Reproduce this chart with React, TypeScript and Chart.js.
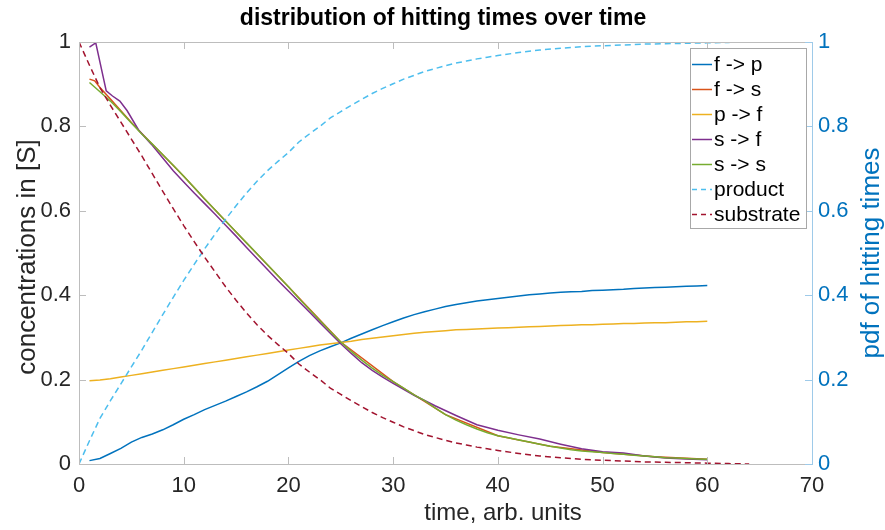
import React, { useEffect, useRef } from "react";
import { Chart, registerables } from "chart.js";

Chart.register(...registerables);

// ---------- data ----------
const chartTitle = "distribution of hitting times over time";
const xLabel = "time, arb. units";
const yLeftLabel = "concentrations in [S]";
const yRightLabel = "pdf of hitting times";

const xTicks = [0, 10, 20, 30, 40, 50, 60, 70];
const yTicks = [0, 0.2, 0.4, 0.6, 0.8, 1];
const yTickLabels = ["0", "0.2", "0.4", "0.6", "0.8", "1"];

const hitT = [
  1, 2, 3, 4, 5, 6, 7, 8, 9, 10, 11, 12, 13, 14, 15, 16, 17, 18, 19, 20,
  21, 22, 23, 24, 25, 26, 27, 28, 29, 30, 31, 32, 33, 34, 35, 36, 37, 38, 39, 40,
  41, 42, 43, 44, 45, 46, 47, 48, 49, 50, 51, 52, 53, 54, 55, 56, 57, 58, 59, 60,
];

const fToP = [
  0.008, 0.013, 0.025, 0.037, 0.052, 0.063, 0.071, 0.081, 0.093, 0.106,
  0.117, 0.129, 0.139, 0.149, 0.16, 0.171, 0.183, 0.196, 0.212, 0.228,
  0.243, 0.257, 0.268, 0.278, 0.287, 0.298, 0.308, 0.318, 0.328, 0.337,
  0.346, 0.354, 0.361, 0.367, 0.373, 0.378, 0.382, 0.386, 0.389, 0.392,
  0.395, 0.398, 0.401, 0.403, 0.405, 0.407, 0.408, 0.409, 0.411, 0.412,
  0.413, 0.414, 0.416, 0.417, 0.418, 0.419, 0.42, 0.421, 0.422, 0.423,
];

const pToF = [
  0.197, 0.199, 0.202, 0.206, 0.21, 0.214, 0.218, 0.222, 0.226, 0.23,
  0.234, 0.238, 0.242, 0.246, 0.25, 0.254, 0.258, 0.262, 0.266, 0.27,
  0.274, 0.278, 0.282, 0.285, 0.288, 0.291, 0.295, 0.298, 0.301, 0.304,
  0.307, 0.31, 0.312, 0.314, 0.316, 0.318, 0.319, 0.32, 0.321, 0.322,
  0.323, 0.324, 0.325, 0.326, 0.327, 0.328, 0.329, 0.33, 0.33, 0.331,
  0.332, 0.333, 0.333, 0.334, 0.335, 0.335, 0.336, 0.337, 0.337, 0.338,
];

const sToS = [
  0.904, 0.882, 0.86, 0.835, 0.808, 0.782, 0.758, 0.733, 0.708, 0.682,
  0.655, 0.628, 0.602, 0.576, 0.55, 0.524, 0.498, 0.472, 0.446, 0.42,
  0.392, 0.366, 0.34, 0.314, 0.289, 0.267, 0.246, 0.227, 0.21, 0.195,
  0.18, 0.164, 0.15, 0.133, 0.117, 0.104, 0.093, 0.083, 0.074, 0.067,
  0.062, 0.057, 0.052, 0.047, 0.042, 0.038, 0.034, 0.031, 0.029, 0.027,
  0.025, 0.023, 0.021, 0.019, 0.017, 0.015, 0.014, 0.013, 0.012, 0.011,
];

const fToST = [1, 1.5, 2, 3, 4, 5, 6, 8, 10, 12, 15, 20, 25, 30, 35, 40, 45, 50, 55, 60];
const fToS = [
  0.912, 0.908, 0.892, 0.865, 0.837, 0.809, 0.783, 0.733, 0.682, 0.628,
  0.55, 0.42, 0.289, 0.195, 0.117, 0.067, 0.042, 0.027, 0.017, 0.011,
];

const sToFT = [
  1, 1.6, 2.6, 3.2, 3.9, 4.6, 5.7, 6.9, 8, 9, 10, 11, 12, 13, 14, 15, 16, 17, 18, 19,
  20, 21, 22, 23, 24, 25, 26, 27, 28, 29, 30, 32, 34, 36, 38, 40, 42, 44, 46, 48,
  50, 52, 54, 56, 58, 60,
];
const sToF = [
  0.988, 0.998, 0.884, 0.872, 0.86, 0.837, 0.791, 0.758, 0.725, 0.695,
  0.668, 0.642, 0.617, 0.592, 0.566, 0.54, 0.513, 0.487, 0.461, 0.435,
  0.41, 0.385, 0.36, 0.335, 0.31, 0.285, 0.262, 0.24, 0.222, 0.206,
  0.191, 0.163, 0.138, 0.115, 0.093, 0.08, 0.069, 0.059, 0.047, 0.036,
  0.029, 0.026, 0.019, 0.014, 0.012, 0.01,
];

const concT = [
  0, 1, 2, 3, 4, 5, 6, 7, 8, 9, 10, 11, 12, 13, 14, 15, 16, 17, 18, 19, 20,
  21, 22, 23, 24, 25, 26, 27, 28, 29, 30, 31, 32, 33, 34, 35, 36, 37, 38, 39, 40,
  42, 44, 46, 48, 50, 52, 54, 56, 58, 60, 62, 64,
];
const product = [
  0, 0.055, 0.108, 0.15, 0.19, 0.23, 0.27, 0.312, 0.354, 0.395, 0.435,
  0.473, 0.51, 0.545, 0.58, 0.612, 0.642, 0.67, 0.695, 0.717, 0.738,
  0.763, 0.782, 0.8, 0.82, 0.835, 0.85, 0.864, 0.878, 0.89, 0.901,
  0.912, 0.921, 0.93, 0.937, 0.944, 0.95, 0.955, 0.96, 0.964, 0.968,
  0.975, 0.981, 0.985, 0.989, 0.991, 0.993, 0.995, 0.996, 0.997, 0.998, 0.999, 1.0,
];
const substrate = [
  1.0, 0.945, 0.892, 0.85, 0.81, 0.77, 0.73, 0.688, 0.646, 0.605, 0.565,
  0.527, 0.49, 0.455, 0.42, 0.388, 0.358, 0.33, 0.305, 0.283, 0.262,
  0.237, 0.218, 0.2, 0.18, 0.165, 0.15, 0.136, 0.122, 0.11, 0.099,
  0.088, 0.079, 0.07, 0.063, 0.056, 0.05, 0.045, 0.04, 0.036, 0.032,
  0.025, 0.019, 0.015, 0.011, 0.009, 0.007, 0.005, 0.004, 0.003, 0.002, 0.001, 0.0,
];

const seriesNames = ["f -> p", "f -> s", "p -> f", "s -> f", "s -> s", "product", "substrate"];
const seriesColors = ["#0072BD", "#D95319", "#EDB120", "#7E2F8E", "#77AC30", "#4DBEEE", "#A2142F"];

const FONT = "'Liberation Sans', Arial, Helvetica, sans-serif";

function pts(xs: number[], ys: number[]) {
  return xs.map((x, i) => ({ x, y: ys[i] }));
}

function yLabelFor(v: number) {
  const i = yTicks.findIndex((t) => Math.abs(t - v) < 1e-9);
  return i >= 0 ? yTickLabels[i] : "";
}

const framePlugin = {
  id: "frame",
  afterDatasetsDraw(chart: any) {
    const { ctx, chartArea: a, scales } = chart;
    ctx.save();
    // axes box
    ctx.lineWidth = 1;
    ctx.strokeStyle = "#bdbdbd";
    ctx.beginPath();
    ctx.moveTo(a.left + 0.5, a.top + 0.5);
    ctx.lineTo(a.left + 0.5, a.bottom + 0.5);
    ctx.lineTo(a.right + 0.5, a.bottom + 0.5);
    ctx.moveTo(a.left + 0.5, a.top + 0.5);
    ctx.lineTo(a.right + 0.5, a.top + 0.5);
    ctx.stroke();
    // x ticks (inward, bottom and top)
    ctx.beginPath();
    xTicks.forEach((v) => {
      const px = Math.round(scales.x.getPixelForValue(v)) + 0.5;
      ctx.moveTo(px, a.bottom);
      ctx.lineTo(px, a.bottom - 7);
      ctx.moveTo(px, a.top);
      ctx.lineTo(px, a.top + 7);
    });
    yTicks.forEach((v) => {
      const py = Math.round(scales.y.getPixelForValue(v)) + 0.5;
      ctx.moveTo(a.left, py);
      ctx.lineTo(a.left + 7, py);
    });
    ctx.stroke();
    // right axis
    ctx.strokeStyle = "#9ecae9";
    ctx.beginPath();
    ctx.moveTo(a.right + 0.5, a.top);
    ctx.lineTo(a.right + 0.5, a.bottom + 1);
    yTicks.forEach((v) => {
      const py = Math.round(scales.y2.getPixelForValue(v)) + 0.5;
      ctx.moveTo(a.right, py);
      ctx.lineTo(a.right - 7, py);
    });
    ctx.stroke();

    // legend
    const lx = 690, ly = 48, lw = 116, lh = 180;
    ctx.fillStyle = "#ffffff";
    ctx.fillRect(lx, ly, lw, lh);
    ctx.strokeStyle = "#a8a8a8";
    ctx.strokeRect(lx + 0.5, ly + 0.5, lw, lh);
    ctx.font = `21px ${FONT}`;
    ctx.textBaseline = "middle";
    ctx.textAlign = "left";
    seriesNames.forEach((name, i) => {
      const ry = 64 + i * 25;
      ctx.strokeStyle = seriesColors[i];
      ctx.lineWidth = 1.5;
      ctx.setLineDash(i >= 5 ? [5, 4] : []);
      ctx.beginPath();
      ctx.moveTo(692, ry + 0.5);
      ctx.lineTo(712, ry + 0.5);
      ctx.stroke();
      ctx.setLineDash([]);
      ctx.fillStyle = "#000000";
      ctx.fillText(name, 714, ry + 1);
    });

    // title
    ctx.fillStyle = "#000000";
    ctx.font = `bold 23px ${FONT}`;
    ctx.textAlign = "center";
    ctx.textBaseline = "middle";
    ctx.fillText(chartTitle, 443, 19);

    // x label
    ctx.fillStyle = "#262626";
    ctx.font = `24px ${FONT}`;
    ctx.fillText(xLabel, 503, 513);

    // left y label
    ctx.save();
    ctx.translate(28, 257);
    ctx.rotate(-Math.PI / 2);
    ctx.font = `26px ${FONT}`;
    ctx.fillStyle = "#262626";
    ctx.fillText(yLeftLabel, 0, 0);
    ctx.restore();

    // right y label
    ctx.save();
    ctx.translate(872, 253);
    ctx.rotate(-Math.PI / 2);
    ctx.font = `26px ${FONT}`;
    ctx.fillStyle = "#0072BD";
    ctx.fillText(yRightLabel, 0, 0);
    ctx.restore();

    ctx.restore();
  },
};

export default function App() {
  const ref = useRef<HTMLCanvasElement | null>(null);

  useEffect(() => {
    if (!ref.current) return;
    const mk = (label: string, data: any[], i: number, axis: string, dashed = false) => ({
      label,
      data,
      borderColor: seriesColors[i],
      backgroundColor: seriesColors[i],
      borderWidth: 1.5,
      borderDash: dashed ? [6, 4] : [],
      pointRadius: 0,
      fill: false,
      tension: 0,
      yAxisID: axis,
      order: 10 - i,
    });
    const chart = new Chart(ref.current, {
      type: "line",
      data: {
        datasets: [
          mk(seriesNames[0], pts(hitT, fToP), 0, "y2"),
          mk(seriesNames[1], pts(fToST, fToS), 1, "y2"),
          mk(seriesNames[2], pts(hitT, pToF), 2, "y2"),
          mk(seriesNames[3], pts(sToFT, sToF), 3, "y2"),
          mk(seriesNames[4], pts(hitT, sToS), 4, "y2"),
          mk(seriesNames[5], pts(concT, product), 5, "y", true),
          mk(seriesNames[6], pts(concT, substrate), 6, "y", true),
        ] as any,
      },
      options: {
        animation: false,
        responsive: false,
        layout: { padding: { top: 42, left: 0, right: 0, bottom: 0 } },
        plugins: { legend: { display: false }, title: { display: false }, tooltip: { enabled: false } },
        scales: {
          x: {
            type: "linear",
            min: 0,
            max: 70,
            afterFit: (s: any) => { s.height = 66; },
            afterBuildTicks: (s: any) => { s.ticks = xTicks.map((v) => ({ value: v })); },
            grid: { display: false, drawTicks: false },
            border: { display: false },
            ticks: {
              font: { family: FONT, size: 22 }, color: "#262626", padding: 9, maxRotation: 0,
              callback: (v: any) => String(v),
            },
          },
          y: {
            type: "linear",
            position: "left",
            min: 0,
            max: 1,
            afterFit: (s: any) => { s.width = 79; },
            afterBuildTicks: (s: any) => { s.ticks = yTicks.map((v) => ({ value: v })); },
            grid: { display: false, drawTicks: false },
            border: { display: false },
            ticks: {
              font: { family: FONT, size: 22 }, color: "#262626", padding: 8,
              callback: (v: any) => yLabelFor(Number(v)),
            },
          },
          y2: {
            type: "linear",
            position: "right",
            min: 0,
            max: 1,
            afterFit: (s: any) => { s.width = 73; },
            afterBuildTicks: (s: any) => { s.ticks = yTicks.map((v) => ({ value: v })); },
            grid: { display: false, drawTicks: false },
            border: { display: false },
            ticks: {
              font: { family: FONT, size: 22 }, color: "#0072BD", padding: 6,
              callback: (v: any) => yLabelFor(Number(v)),
            },
          },
        },
      } as any,
      plugins: [framePlugin],
    });
    return () => chart.destroy();
  }, []);

  return (
    <div style={{ position: "absolute", left: 0, top: 0, width: 885, height: 530, background: "#fff" }}>
      <canvas ref={ref} width={885} height={530} style={{ display: "block" }} />
    </div>
  );
}
